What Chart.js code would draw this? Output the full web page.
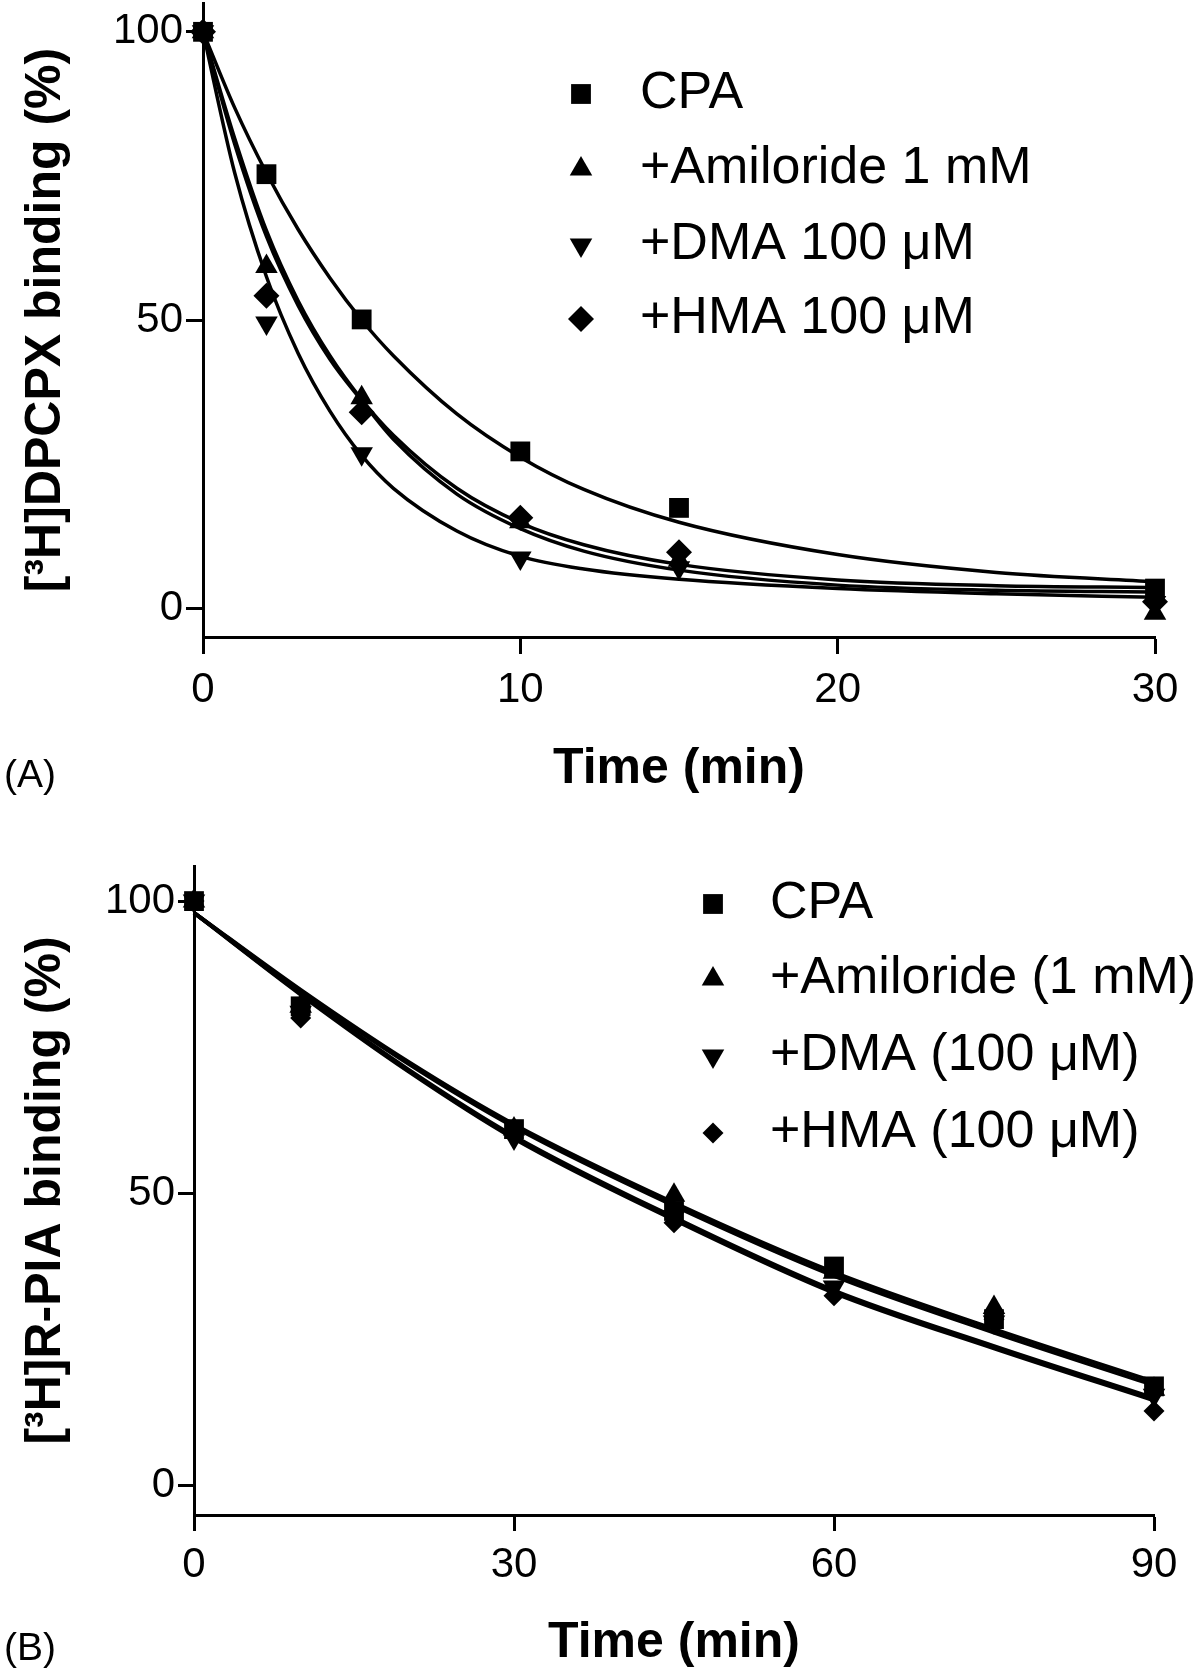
<!DOCTYPE html>
<html>
<head>
<meta charset="utf-8">
<title>Dissociation kinetics</title>
<script src="https://cdn.jsdelivr.net/npm/chart.js@4.4.0/dist/chart.umd.min.js"></script>
<style>
    html, body { margin: 0; padding: 0; background: #fff; }
    body { position: relative; width: 1200px; height: 1673px; overflow: hidden; }
    #chartA { position: absolute; left: 0; top: 0; }
    #chartB { position: absolute; left: 0; top: 830px; }
</style>
</head>
<body>
<canvas id="chartA" width="1200" height="799"></canvas>
<canvas id="chartB" width="1200" height="843"></canvas>
<script>
"use strict";

/* panel A - [3H]DPCPX binding, measured points */
var timeA = [0, 2, 5, 10, 15, 30];
var cpaA = [100, 75.3, 50.1, 27.2, 17.4, 3.4];
var amilA = [100, 59.3, 36.5, 15.0, 8.3, -0.9];
var dmaA = [100, 49.5, 26.8, 8.7, 7.0, 1.0];
var hmaA = [100, 54.2, 34.0, 15.7, 9.7, 1.1];

/* panel A - fitted curves */
var fitTimeA = [0, 1, 2, 3, 4, 5, 6, 8, 10, 12, 15, 20, 25, 30];
var cpaFitA = [100, 86.8, 75.5, 65.7, 57.3, 50.0, 43.8, 33.7, 26.2, 20.6, 14.9, 9.3, 6.2, 4.6];
var amilFitA = [100, 80.5, 64.5, 52.5, 43.2, 36.0, 29.3, 19.8, 13.8, 9.9, 6.6, 4.0, 3.1, 2.8];
var dmaFitA = [100, 75.5, 57.5, 44.2, 34.2, 26.5, 20.8, 13.4, 9.0, 6.8, 5.0, 3.4, 2.5, 1.9];
var hmaFitA = [100, 81.5, 65.5, 53.3, 43.8, 36.2, 30.0, 20.8, 14.8, 11.0, 7.6, 4.9, 3.9, 3.6];

var xTicksA = [0, 10, 20, 30];
var legendA = ['CPA', '+Amiloride 1 mM', '+DMA 100 \u03BCM', '+HMA 100 \u03BCM'];

/* panel B - [3H]R-PIA binding, measured points */
var timeB = [0, 10, 30, 45, 60, 75, 90];
var cpaB = [100, 82, 61, 47, 37.5, 28.5, 17];
var amilB = [100, 82, 61, 49.7, 36.5, 30.5, 16.5];
var dmaB = [100, 81, 59.5, 46, 34, 28, 15.5];
var hmaB = [100, 80, 60.5, 45, 32.5, 28.5, 12.8];

/* panel B - fitted curves */
var fitTimeB = [0, 10, 20, 30, 45, 60, 75, 90];
var cpaFitB = [98, 84.6, 72.3, 61.4, 47.9, 35.9, 26.2, 17.2];
var amilFitB = [98, 84.8, 72.6, 61.8, 48.4, 36.5, 26.8, 17.8];
var dmaFitB = [98, 84.2, 71.3, 59.8, 45.9, 33.4, 23.9, 15.0];
var hmaFitB = [98, 84.0, 71.0, 59.4, 45.5, 33.0, 23.5, 14.6];

var xTicksB = [0, 30, 60, 90];
var legendB = ['CPA', '+Amiloride (1 mM)', '+DMA (100 \u03BCM)', '+HMA (100 \u03BCM)'];

var yTicks = [0, 50, 100];

Chart.defaults.font.family = '"Liberation Sans", Arial, Helvetica, sans-serif';
Chart.defaults.color = '#000';

function pts(xs, ys) {
    return xs.map(function (x, i) { return { x: x, y: ys[i] }; });
}

/* square, triangle, inverted triangle, diamond */
var marksA = [
    { style: 'rect', rot: 0, r: 14 },
    { style: 'triangle', rot: 0, r: 13 },
    { style: 'triangle', rot: 180, r: 13 },
    { style: 'rectRot', rot: 0, r: 13 }
];
var marksB = [
    { style: 'rect', rot: 0, r: 14 },
    { style: 'triangle', rot: 0, r: 13 },
    { style: 'triangle', rot: 180, r: 13 },
    { style: 'rectRot', rot: 0, r: 10.5 }
];

function drawMark(ctx, m, x, y) {
    var r = m.r;
    ctx.save();
    ctx.translate(x, y);
    ctx.rotate(m.rot * Math.PI / 180);
    ctx.beginPath();
    if (m.style === 'rect') {
        var s = r * Math.SQRT1_2;
        ctx.rect(-s, -s, 2 * s, 2 * s);
    } else if (m.style === 'triangle') {
        var a = 0;
        ctx.moveTo(Math.sin(a) * r, -Math.cos(a) * r);
        a += 2 * Math.PI / 3;
        ctx.lineTo(Math.sin(a) * r, -Math.cos(a) * r);
        a += 2 * Math.PI / 3;
        ctx.lineTo(Math.sin(a) * r, -Math.cos(a) * r);
        ctx.closePath();
    } else {
        ctx.moveTo(-r, 0);
        ctx.lineTo(0, -r);
        ctx.lineTo(r, 0);
        ctx.lineTo(0, r);
        ctx.closePath();
    }
    ctx.fillStyle = '#000';
    ctx.fill();
    ctx.restore();
}

/* legend inside the plot + panel letter */
var panelLegend = {
    id: 'panelLegend',
    afterDraw: function (chart, args, opts) {
        var ctx = chart.ctx;
        ctx.save();
        opts.labels.forEach(function (txt, i) {
            drawMark(ctx, opts.marks[i], opts.markX, opts.rows[i]);
            ctx.fillStyle = '#000';
            ctx.font = '52px "Liberation Sans", Arial, sans-serif';
            ctx.textAlign = 'left';
            ctx.textBaseline = 'middle';
            ctx.fillText(txt, opts.textX, opts.rows[i]);
        });
        ctx.font = '39px "Liberation Sans", Arial, sans-serif';
        ctx.textBaseline = 'middle';
        ctx.fillText(opts.tag, 4, opts.tagY);
        ctx.restore();
    }
};

function buildDatasets(time, series, fitTime, fits, marks, lw) {
    var sets = [];
    series.forEach(function (ys, i) {
        sets.push({
            data: pts(time, ys),
            showLine: false,
            pointStyle: marks[i].style,
            pointRotation: marks[i].rot,
            pointRadius: marks[i].r,
            pointBackgroundColor: '#000',
            pointBorderColor: '#000',
            pointBorderWidth: 0,
            clip: false
        });
    });
    fits.forEach(function (ys) {
        sets.push({
            data: pts(fitTime, ys),
            showLine: true,
            pointRadius: 0,
            borderColor: '#000',
            borderWidth: lw,
            cubicInterpolationMode: 'monotone',
            fill: false,
            clip: false
        });
    });
    return sets;
}

function axisOptions(p) {
    return {
        x: {
            type: 'linear',
            min: p.xMin,
            max: p.xMax,
            afterBuildTicks: function (scale) {
                scale.ticks = p.xTicks.map(function (v) { return { value: v }; });
            },
            afterFit: function (scale) {
                scale.height = p.xHeight;
                scale.paddingLeft = 0;
                scale.paddingRight = 0;
            },
            ticks: { font: { size: 42 }, padding: p.xPad, maxRotation: 0, color: '#000' },
            grid: {
                display: true,
                drawOnChartArea: false,
                drawTicks: true,
                tickLength: p.tick,
                tickColor: '#000',
                tickWidth: 3,
                color: '#000'
            },
            border: { display: true, color: '#000', width: 3 },
            title: {
                display: true,
                text: 'Time (min)',
                font: { size: 50, weight: 'bold' },
                padding: 0,
                color: '#000'
            }
        },
        y: {
            type: 'linear',
            min: p.yMin,
            max: p.yMax,
            afterBuildTicks: function (scale) {
                scale.ticks = yTicks.map(function (v) { return { value: v }; });
            },
            afterFit: function (scale) {
                scale.width = p.yWidth;
                scale.paddingTop = 0;
                scale.paddingBottom = 0;
            },
            ticks: { font: { size: 42 }, padding: 3, color: '#000' },
            grid: {
                display: true,
                drawOnChartArea: false,
                drawTicks: true,
                tickLength: p.tick,
                tickColor: '#000',
                tickWidth: 3,
                color: '#000'
            },
            border: { display: true, color: '#000', width: 3 },
            title: {
                display: true,
                text: p.yTitle,
                font: { size: 50, weight: 'bold' },
                padding: { top: 16, bottom: 0 },
                color: '#000'
            }
        }
    };
}

/* panel A */
new Chart(document.getElementById('chartA').getContext('2d'), {
    type: 'scatter',
    data: {
        datasets: buildDatasets(timeA, [cpaA, amilA, dmaA, hmaA], fitTimeA,
            [cpaFitA, amilFitA, dmaFitA, hmaFitA], marksA, 3.5)
    },
    options: {
        responsive: false,
        animation: false,
        layout: { autoPadding: false, padding: { left: 0, right: 45, top: 3, bottom: 0 } },
        plugins: {
            legend: { display: false },
            tooltip: { enabled: false },
            panelLegend: {
                labels: legendA,
                marks: marksA,
                markX: 581,
                textX: 640,
                rows: [94, 169, 245, 319],
                tag: '(A)',
                tagY: 776
            }
        },
        scales: axisOptions({
            xMin: 0, xMax: 30, xTicks: xTicksA, xHeight: 162, xPad: 11,
            yMin: -5, yMax: 105, yWidth: 203, tick: 17,
            yTitle: '[\u00B3H]DPCPX binding (%)'
        })
    },
    plugins: [panelLegend]
});

/* panel B */
new Chart(document.getElementById('chartB').getContext('2d'), {
    type: 'scatter',
    data: {
        datasets: buildDatasets(timeB, [cpaB, amilB, dmaB, hmaB], fitTimeB,
            [cpaFitB, amilFitB, dmaFitB, hmaFitB], marksB, 4)
    },
    options: {
        responsive: false,
        animation: false,
        layout: { autoPadding: false, padding: { left: 0, right: 46, top: 36, bottom: 0 } },
        plugins: {
            legend: { display: false },
            tooltip: { enabled: false },
            panelLegend: {
                labels: legendB,
                marks: marksB,
                markX: 713,
                textX: 770,
                rows: [74, 149, 226, 303],
                tag: '(B)',
                tagY: 819
            }
        },
        scales: axisOptions({
            xMin: 0, xMax: 90, xTicks: xTicksB, xHeight: 158, xPad: 9,
            yMin: -5, yMax: 106, yWidth: 194, tick: 16,
            yTitle: '[\u00B3H]R-PIA binding (%)'
        })
    },
    plugins: [panelLegend]
});
</script>
</body>
</html>
